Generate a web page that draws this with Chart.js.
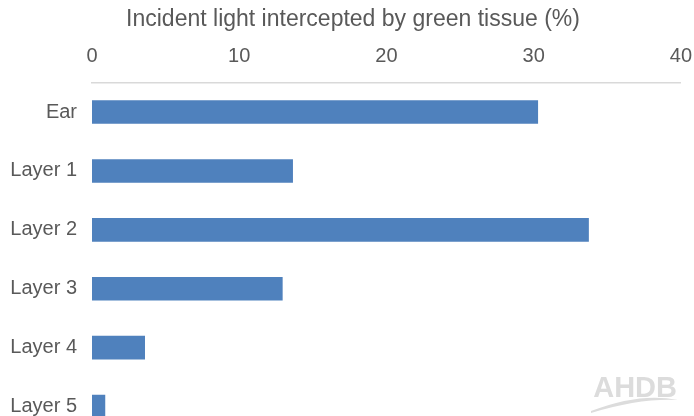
<!DOCTYPE html>
<html>
<head>
<meta charset="utf-8">
<script src="https://cdn.jsdelivr.net/npm/chart.js@4"></script>
<style>
  html, body { margin: 0; padding: 0; background: #fff; overflow: hidden; }
</style>
</head>
<body>
<canvas id="chart" width="706" height="463"></canvas>
<script>
const categories = ['Ear', 'Layer 1', 'Layer 2', 'Layer 3', 'Layer 4', 'Layer 5'];
const values = [30.3, 13.65, 33.75, 12.95, 3.6, 0.9];
const xTicks = [0, 10, 20, 30, 40];
const axisTitle = 'Incident light intercepted by green tissue (%)';

const textColor = '#595959';
const fontFamily = '"Liberation Sans", Arial, sans-serif';

// faint AHDB watermark in the bottom right corner
const logoPlugin = {
    id: 'logo',
    afterDraw(chart) {
        const ctx = chart.ctx;
        ctx.save();
        ctx.fillStyle = '#dcdcdc';
        ctx.font = 'bold 29px ' + fontFamily;
        ctx.textAlign = 'right';
        ctx.textBaseline = 'alphabetic';
        ctx.fillText('AHDB', 677, 397);
        ctx.beginPath();
        ctx.moveTo(591, 411);
        ctx.quadraticCurveTo(640, 392, 678, 400);
        ctx.quadraticCurveTo(640, 398, 591, 413);
        ctx.closePath();
        ctx.fill();
        ctx.restore();
    }
};

const ctx = document.getElementById('chart').getContext('2d');
new Chart(ctx, {
    type: 'bar',
    data: {
        labels: categories,
        datasets: [{
            data: values,
            backgroundColor: '#4f81bd',
            borderWidth: 0,
            categoryPercentage: 0.8,
            barPercentage: 0.5
        }]
    },
    options: {
        indexAxis: 'y',
        responsive: false,
        animation: false,
        layout: { padding: 0 },
        plugins: {
            legend: { display: false },
            tooltip: { enabled: false },
            title: {
                display: true,
                text: axisTitle,
                color: textColor,
                font: { family: fontFamily, size: 23, weight: 'normal' },
                padding: { top: 6, bottom: 5 }
            }
        },
        scales: {
            x: {
                position: 'top',
                min: 0,
                max: 40,
                afterBuildTicks: scale => { scale.ticks = xTicks.map(v => ({ value: v })); },
                grid: { display: false, drawTicks: false },
                border: { display: true, color: '#d9d9d9', width: 1.5 },
                ticks: {
                    color: textColor,
                    font: { family: fontFamily, size: 20 },
                    padding: 14
                },
                afterFit: scale => { scale.height = 44; }
            },
            y: {
                grid: { display: false, drawTicks: false },
                border: { display: false },
                ticks: {
                    color: textColor,
                    font: { family: fontFamily, size: 20 },
                    padding: 15
                },
                afterFit: scale => { scale.width = 92; }
            }
        }
    },
    plugins: [logoPlugin]
});
</script>
</body>
</html>
